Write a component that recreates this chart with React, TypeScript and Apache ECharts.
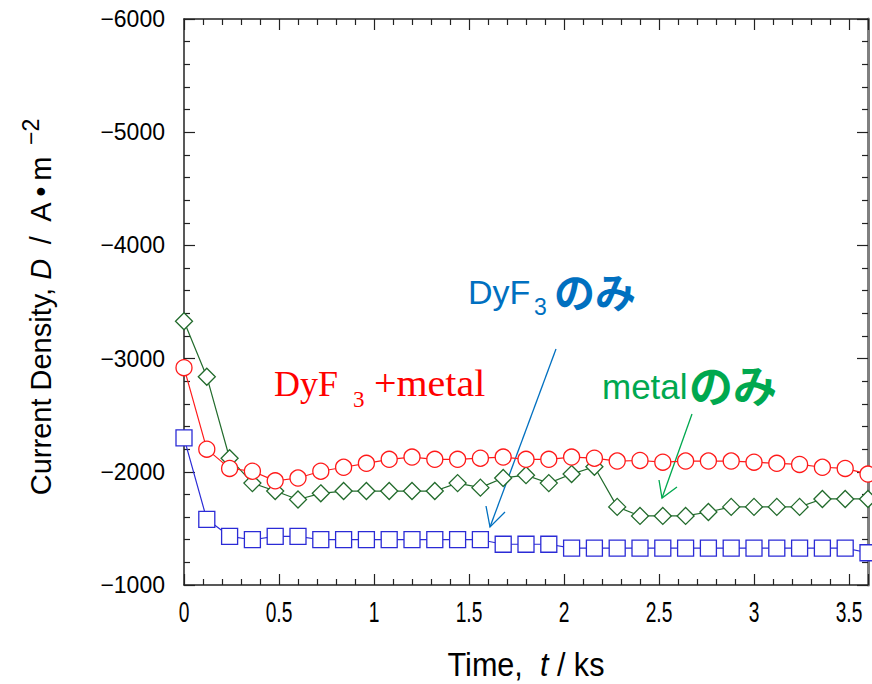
import React, { useEffect, useRef } from "react";
import * as echarts from "echarts";

// Sampling times (ks)
const timeKs = [
  0, 0.12, 0.24, 0.36, 0.48, 0.6, 0.72, 0.84, 0.96, 1.08, 1.2, 1.32, 1.44, 1.56, 1.68, 1.8,
  1.92, 2.04, 2.16, 2.28, 2.4, 2.52, 2.64, 2.76, 2.88, 3.0, 3.12, 3.24, 3.36, 3.48, 3.6,
];

// Current density (A·m^-2)
const dyf3Metal = [
  -2920, -2200, -2030, -2005, -1920, -1945, -2005, -2040, -2075, -2110, -2130, -2110, -2110,
  -2120, -2130, -2110, -2110, -2130, -2120, -2095, -2100, -2085, -2095, -2095, -2095, -2085,
  -2075, -2065, -2040, -2030, -1980,
];
const metalOnly = [
  -3330, -2840, -2120, -1900, -1830, -1755, -1810, -1830, -1830, -1830, -1830, -1830, -1900,
  -1860, -1945, -1970, -1900, -1980, -2045, -1690, -1610, -1610, -1610, -1645, -1690, -1690,
  -1690, -1690, -1760, -1760, -1760,
];
const dyf3Only = [
  -2300, -1580, -1430, -1400, -1430, -1430, -1400, -1400, -1400, -1400, -1400, -1400, -1400,
  -1400, -1360, -1360, -1360, -1325, -1325, -1325, -1325, -1325, -1325, -1325, -1325, -1325,
  -1325, -1325, -1325, -1325, -1285,
];

// Time axis tick labels (ks)
const xTickLabels = [0, 0.5, 1, 1.5, 2, 2.5, 3, 3.5];

const SANS = "'Liberation Sans', Arial, Helvetica, sans-serif";
const SERIF = "'Liberation Serif', 'Times New Roman', serif";
const CJK = "'Noto Sans CJK JP', sans-serif";

const RED = "#ff1a1a";
const BLUE = "#2b2bd6";
const GREEN = "#226b2c";
const NOTE_BLUE = "#0070c0";
const NOTE_GREEN = "#00a84f";

const pairs = (ys: number[]) => timeKs.map((t, i) => [t, ys[i]]);
const minus = (v: number) => String(v).replace("-", "\u2212");

export default function App() {
  const ref = useRef<HTMLDivElement>(null);

  useEffect(() => {
    if (!ref.current) return;
    const chart = echarts.init(ref.current, undefined, { renderer: "svg" });

    const tickCommon = {
      axisTick: { show: true, inside: true, length: 11, lineStyle: { color: "#222", width: 1.2 } },
      minorTick: { show: true, splitNumber: 5, length: 6, lineStyle: { color: "#222", width: 1.2 } },
      splitLine: { show: false },
      minorSplitLine: { show: false },
    };

    const series = [
      { name: "DyF3のみ", data: pairs(dyf3Only), color: BLUE, symbol: "rect", size: 16 },
      { name: "metalのみ", data: pairs(metalOnly), color: GREEN, symbol: "diamond", size: 17 },
      { name: "DyF3+metal", data: pairs(dyf3Metal), color: RED, symbol: "circle", size: 16 },
    ].map((s) => ({
      type: "line",
      name: s.name,
      data: s.data,
      symbol: s.symbol,
      symbolSize: s.size,
      showAllSymbol: true,
      lineStyle: { color: s.color, width: 1.2 },
      itemStyle: { color: "#fff", borderColor: s.color, borderWidth: 1.3 },
      clip: false,
      z: 3,
    }));

    const notes: any[] = [
      // y axis title
      {
        type: "text",
        x: 37,
        y: 307,
        rotation: Math.PI / 2,
        style: {
          text: "{n|Current Density, }{i|D}{n|\u2002/\u2002A\u2009\u2022\u2009m}{p|\u2002\u22122}",
          align: "center",
          verticalAlign: "middle",
          fill: "#000",
          rich: {
            n: { fontFamily: SANS, fontSize: 29, fill: "#000", verticalAlign: "bottom", lineHeight: 36 },
            i: { fontFamily: SANS, fontSize: 29, fontStyle: "italic", fill: "#000", verticalAlign: "bottom", lineHeight: 36 },
            p: { fontFamily: SANS, fontSize: 23, fill: "#000", verticalAlign: "top", lineHeight: 22 },
          },
        },
      },
      // x axis title
      {
        type: "text",
        x: 526,
        y: 664,
        scaleX: 0.9,
        style: {
          text: "{n|Time,  }{i|t}{n| / ks}",
          align: "center",
          verticalAlign: "middle",
          fill: "#000",
          rich: {
            n: { fontFamily: SANS, fontSize: 34, fill: "#000" },
            i: { fontFamily: SANS, fontSize: 34, fontStyle: "italic", fill: "#000" },
          },
        },
      },
      // DyF3のみ label
      { type: "text", x: 468, y: 292, style: { text: "DyF", fontFamily: SANS, fontSize: 34, fill: NOTE_BLUE, verticalAlign: "middle" } },
      { type: "text", x: 534, y: 307, style: { text: "3", fontFamily: SANS, fontSize: 23, fill: NOTE_BLUE, verticalAlign: "middle" } },
      { type: "text", x: 554, y: 290, style: { text: "のみ", fontFamily: CJK, fontWeight: "bold", fontSize: 41, fill: NOTE_BLUE, verticalAlign: "middle" } },
      // DyF3 +metal label
      { type: "text", x: 274, y: 384, style: { text: "DyF", fontFamily: SERIF, fontSize: 36, fill: "#ff0000", verticalAlign: "middle" } },
      { type: "text", x: 353, y: 399, style: { text: "3", fontFamily: SERIF, fontSize: 23, fill: "#ff0000", verticalAlign: "middle" } },
      { type: "text", x: 374, y: 384, scaleX: 1.08, style: { text: "+metal", fontFamily: SERIF, fontSize: 37, fill: "#ff0000", verticalAlign: "middle" } },
      // metalのみ label
      { type: "text", x: 602, y: 386, style: { text: "metal", fontFamily: SANS, fontSize: 35, fill: NOTE_GREEN, verticalAlign: "middle" } },
      { type: "text", x: 689, y: 384, style: { text: "のみ", fontFamily: CJK, fontWeight: "bold", fontSize: 44, fill: NOTE_GREEN, verticalAlign: "middle" } },
      // arrows
      { type: "line", shape: { x1: 556, y1: 349, x2: 490, y2: 527 }, style: { stroke: NOTE_BLUE, lineWidth: 1.3 } },
      { type: "polyline", shape: { points: [[486, 506], [490, 527], [505, 512]] }, style: { stroke: NOTE_BLUE, fill: "none", lineWidth: 1.3 } },
      { type: "line", shape: { x1: 692, y1: 414, x2: 662, y2: 498 }, style: { stroke: NOTE_GREEN, lineWidth: 1.3 } },
      { type: "polyline", shape: { points: [[659, 480], [662, 498], [677, 487]] }, style: { stroke: NOTE_GREEN, fill: "none", lineWidth: 1.3 } },
    ];

    chart.setOption({
      animation: false,
      grid: { left: 184, right: 4, top: 19, bottom: 99, show: false },
      xAxis: [
        {
          type: "value",
          position: "bottom",
          min: 0,
          max: 3.6,
          interval: 0.5,
          axisLine: { show: true, onZero: false, lineStyle: { color: "#222", width: 1.5 } },
          axisLabel: { show: false },
          ...tickCommon,
        },
        {
          type: "value",
          position: "top",
          min: 0,
          max: 3.6,
          interval: 0.5,
          axisLine: { show: true, onZero: false, lineStyle: { color: "#222", width: 1.5 } },
          axisLabel: { show: false },
          ...tickCommon,
        },
      ],
      yAxis: [
        {
          type: "value",
          position: "left",
          inverse: true,
          min: -6000,
          max: -1000,
          interval: 1000,
          axisLine: { show: true, onZero: false, lineStyle: { color: "#222", width: 1.5 } },
          axisLabel: {
            color: "#000",
            fontFamily: SANS,
            fontSize: 23,
            margin: 19,
            formatter: (v: number) => minus(v),
          },
          ...tickCommon,
        },
        {
          type: "value",
          position: "right",
          inverse: true,
          min: -6000,
          max: -1000,
          interval: 1000,
          axisLine: { show: true, onZero: false, lineStyle: { color: "#808080", width: 3 } },
          axisLabel: { show: false },
          ...tickCommon,
        },
      ],
      series,
      graphic: notes,
    });

    // Condensed time-axis tick labels placed at the axis' own tick positions
    const labelY = (chart.convertToPixel({ yAxisIndex: 0 }, -1000) as number) + 26;
    const tickTexts = xTickLabels.map((v) => ({
      type: "text",
      x: chart.convertToPixel({ xAxisIndex: 0 }, v) as number,
      y: labelY,
      scaleX: 0.64,
      style: {
        text: String(v),
        fontFamily: SANS,
        fontSize: 30,
        fill: "#000",
        align: "center",
        verticalAlign: "middle",
      },
    }));
    chart.setOption({ graphic: [...notes, ...tickTexts] });

    return () => chart.dispose();
  }, []);

  return (
    <div
      ref={ref}
      style={{ position: "absolute", left: 0, top: 0, width: 872, height: 684 }}
    />
  );
}
